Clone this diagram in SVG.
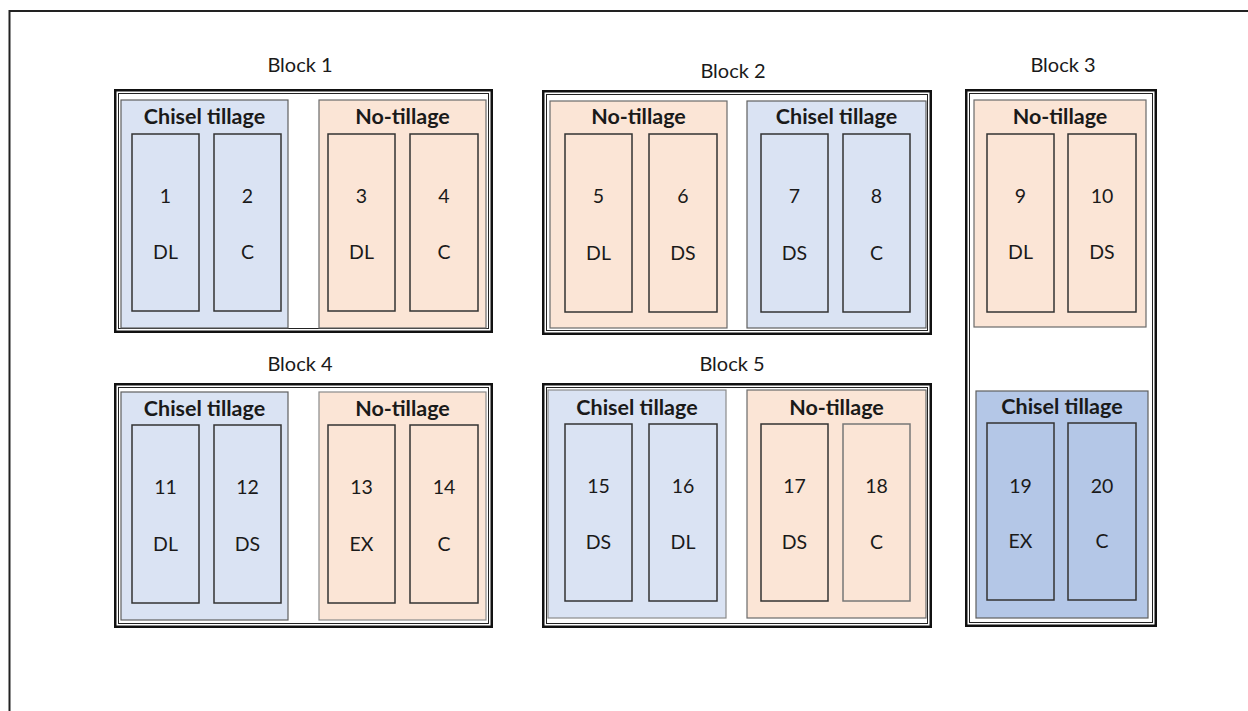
<svg xmlns="http://www.w3.org/2000/svg" width="1248" height="711" viewBox="0 0 1248 711">
  <style>
    text { font-family: Lato, "Open Sans", "Liberation Sans", sans-serif; fill: #1a1a1a; text-anchor: middle; }
    .blk { font-size: 20px; }
    .hdr { font-size: 21.5px; font-weight: bold; }
    .num { font-size: 19.5px; }
    .frame-o { fill: none; stroke: #111; stroke-width: 2.5; }
    .frame-i { fill: none; stroke: #222; stroke-width: 1; }
    .ct { fill: #dae3f3; stroke: #5f5f5f; stroke-width: 1.2; }
    .ct2 { fill: #b4c7e7; stroke: #5f5f5f; stroke-width: 1.2; }
    .nt { fill: #fbe5d6; stroke: #6a6a6a; stroke-width: 1.2; }
    .plot { fill: none; stroke: #333; stroke-width: 1.5; }
  </style>

  <!-- page frame -->
  <rect x="9.5" y="11" width="1260" height="720" fill="none" stroke="#222" stroke-width="2"/>

  <!-- Block 1 -->
  <g id="block1">
    <text class="blk" x="300" y="72">Block 1</text>
    <rect class="frame-o" x="115.25" y="90.25" width="376.5" height="241.5"/>
    <rect class="frame-i" x="118.5" y="93.5" width="370" height="235"/>
    <g id="b1-chisel">
      <rect class="ct" x="121" y="100" width="167" height="228"/>
      <text class="hdr" x="204.5" y="124">Chisel tillage</text>
    </g>
    <g id="b1-notill">
      <rect class="nt" x="319" y="100" width="167" height="228"/>
      <text class="hdr" x="402.5" y="124">No-tillage</text>
    </g>
    <g id="plot1"><rect class="plot" x="132" y="134" width="67" height="177"/><text class="num" x="165.5" y="203">1</text><text class="num" x="165.5" y="259">DL</text></g>
    <g id="plot2"><rect class="plot" x="214" y="134" width="67" height="177"/><text class="num" x="247.5" y="203">2</text><text class="num" x="247.5" y="259">C</text></g>
    <g id="plot3"><rect class="plot" x="328" y="134" width="67" height="177"/><text class="num" x="361.5" y="203">3</text><text class="num" x="361.5" y="259">DL</text></g>
    <g id="plot4"><rect class="plot" x="410" y="134" width="68" height="177"/><text class="num" x="444" y="203">4</text><text class="num" x="444" y="259">C</text></g>
  </g>

  <!-- Block 2 -->
  <g id="block2">
    <text class="blk" x="733" y="78">Block 2</text>
    <rect class="frame-o" x="543.25" y="91.25" width="387.5" height="242.5"/>
    <rect class="frame-i" x="546.5" y="94.5" width="381" height="236"/>
    <g id="b2-notill">
      <rect class="nt" x="550" y="101" width="177" height="227"/>
      <text class="hdr" x="638.5" y="124">No-tillage</text>
    </g>
    <g id="b2-chisel">
      <rect class="ct" x="747" y="101" width="179" height="227"/>
      <text class="hdr" x="836.5" y="124">Chisel tillage</text>
    </g>
    <g id="plot5"><rect class="plot" x="565" y="134" width="67" height="178"/><text class="num" x="598.5" y="203">5</text><text class="num" x="598.5" y="260">DL</text></g>
    <g id="plot6"><rect class="plot" x="649" y="134" width="68" height="178"/><text class="num" x="683" y="203">6</text><text class="num" x="683" y="260">DS</text></g>
    <g id="plot7"><rect class="plot" x="761" y="134" width="67" height="178"/><text class="num" x="794.5" y="203">7</text><text class="num" x="794.5" y="260">DS</text></g>
    <g id="plot8"><rect class="plot" x="843" y="134" width="67" height="178"/><text class="num" x="876.5" y="203">8</text><text class="num" x="876.5" y="260">C</text></g>
  </g>

  <!-- Block 3 -->
  <g id="block3">
    <text class="blk" x="1063" y="72">Block 3</text>
    <rect class="frame-o" x="966.25" y="90.25" width="189.5" height="535.5"/>
    <rect class="frame-i" x="969.5" y="93.5" width="183" height="529"/>
    <g id="b3-notill">
      <rect class="nt" x="974" y="100" width="172" height="227"/>
      <text class="hdr" x="1060" y="124">No-tillage</text>
    </g>
    <g id="b3-chisel">
      <rect class="ct2" x="976" y="391" width="172" height="227"/>
      <text class="hdr" x="1062" y="414">Chisel tillage</text>
    </g>
    <g id="plot9"><rect class="plot" x="987" y="134" width="67" height="178"/><text class="num" x="1020.5" y="203">9</text><text class="num" x="1020.5" y="259">DL</text></g>
    <g id="plot10"><rect class="plot" x="1068" y="134" width="68" height="178"/><text class="num" x="1102" y="203">10</text><text class="num" x="1102" y="259">DS</text></g>
    <g id="plot19"><rect class="plot" x="987" y="423" width="67" height="177"/><text class="num" x="1020.5" y="493">19</text><text class="num" x="1020.5" y="548">EX</text></g>
    <g id="plot20"><rect class="plot" x="1068" y="423" width="68" height="177"/><text class="num" x="1102" y="493">20</text><text class="num" x="1102" y="548">C</text></g>
  </g>

  <!-- Block 4 -->
  <g id="block4">
    <text class="blk" x="300" y="371">Block 4</text>
    <rect class="frame-o" x="115.25" y="384.25" width="376.5" height="242.5"/>
    <rect class="frame-i" x="118.5" y="387.5" width="370" height="236"/>
    <g id="b4-chisel">
      <rect class="ct" x="121" y="392" width="167" height="228"/>
      <text class="hdr" x="204.5" y="416">Chisel tillage</text>
    </g>
    <g id="b4-notill">
      <rect class="nt" x="319" y="392" width="167" height="228" style="stroke:#8a8a8a"/>
      <text class="hdr" x="402.5" y="416">No-tillage</text>
    </g>
    <g id="plot11"><rect class="plot" x="132" y="425" width="67" height="178"/><text class="num" x="165.5" y="494">11</text><text class="num" x="165.5" y="551">DL</text></g>
    <g id="plot12"><rect class="plot" x="214" y="425" width="67" height="178"/><text class="num" x="247.5" y="494">12</text><text class="num" x="247.5" y="551">DS</text></g>
    <g id="plot13"><rect class="plot" x="328" y="425" width="67" height="178"/><text class="num" x="361.5" y="494">13</text><text class="num" x="361.5" y="551">EX</text></g>
    <g id="plot14"><rect class="plot" x="410" y="425" width="68" height="178"/><text class="num" x="444" y="494">14</text><text class="num" x="444" y="551">C</text></g>
  </g>

  <!-- Block 5 -->
  <g id="block5">
    <text class="blk" x="732" y="371">Block 5</text>
    <rect class="frame-o" x="543.25" y="384.25" width="387.5" height="242.5"/>
    <rect class="frame-i" x="546.5" y="387.5" width="381" height="236"/>
    <g id="b5-chisel">
      <rect class="ct" x="548" y="390" width="178" height="228" style="stroke:#8a8a8a"/>
      <text class="hdr" x="637" y="415">Chisel tillage</text>
    </g>
    <g id="b5-notill">
      <rect class="nt" x="747" y="390" width="179" height="228"/>
      <text class="hdr" x="836.5" y="415">No-tillage</text>
    </g>
    <g id="plot15"><rect class="plot" x="565" y="424" width="67" height="177"/><text class="num" x="598.5" y="493">15</text><text class="num" x="598.5" y="549">DS</text></g>
    <g id="plot16"><rect class="plot" x="649" y="424" width="68" height="177"/><text class="num" x="683" y="493">16</text><text class="num" x="683" y="549">DL</text></g>
    <g id="plot17"><rect class="plot" x="761" y="424" width="67" height="177"/><text class="num" x="794.5" y="493">17</text><text class="num" x="794.5" y="549">DS</text></g>
    <g id="plot18"><rect class="plot" x="843" y="424" width="67" height="177" style="stroke:#777"/><text class="num" x="876.5" y="493">18</text><text class="num" x="876.5" y="549">C</text></g>
  </g>

  <!-- no connectors in this layout -->
  <g id="connectors"/>
</svg>
